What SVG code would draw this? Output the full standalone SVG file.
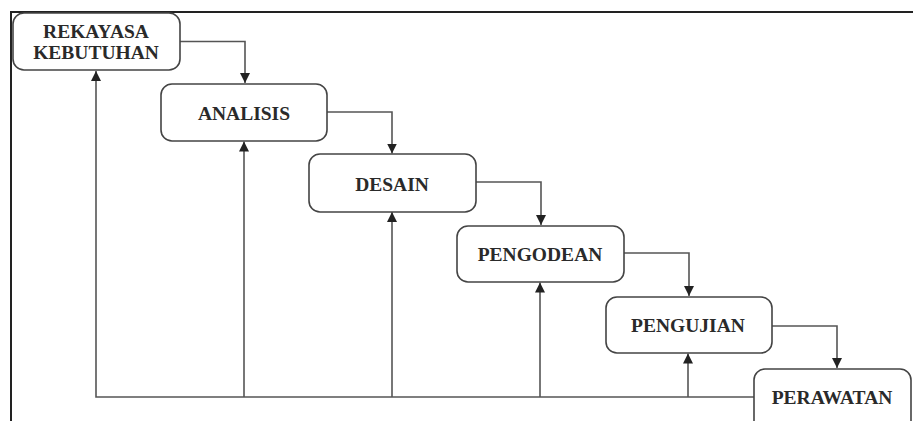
<svg xmlns="http://www.w3.org/2000/svg" width="913" height="421" viewBox="0 0 913 421">
<style>
.box{fill:#fff;stroke:#444;stroke-width:1.6}
.lbl{font-family:"Liberation Serif","Times New Roman",serif;font-weight:bold;font-size:19.5px;fill:#2a2a2a;text-anchor:middle}
.con{fill:none;stroke:#555;stroke-width:1.6}
.frame{fill:none;stroke:#222;stroke-width:2}
</style>
<defs>
<marker id="arr" viewBox="0 0 10 10" refX="10" refY="5" markerWidth="10" markerHeight="10" markerUnits="userSpaceOnUse" orient="auto">
<path d="M0,0 L10,5 L0,10 Z" fill="#222"/>
</marker>
</defs>
<rect width="913" height="421" fill="#fff"/>
<path class="frame" d="M11,421 V12 H913"/>
<g id="connectors">
<path class="con" d="M180,41.5 H245 V83" marker-end="url(#arr)"/>
<path class="con" d="M327,112 H392 V153.5" marker-end="url(#arr)"/>
<path class="con" d="M476,182 H541 V225" marker-end="url(#arr)"/>
<path class="con" d="M624,253 H689 V296" marker-end="url(#arr)"/>
<path class="con" d="M772,326 H837 V368" marker-end="url(#arr)"/>
<path class="con" d="M754,397 H96 V71" marker-end="url(#arr)"/>
<path class="con" d="M244,397 V141.5" marker-end="url(#arr)"/>
<path class="con" d="M392,397 V212" marker-end="url(#arr)"/>
<path class="con" d="M540,397 V282.5" marker-end="url(#arr)"/>
<path class="con" d="M688,397 V353.5" marker-end="url(#arr)"/>
</g>
<g id="rekayasa">
<rect class="box" x="13" y="13" width="167" height="57" rx="11"/>
<text class="lbl" x="96" y="38">REKAYASA</text>
<text class="lbl" x="96" y="59">KEBUTUHAN</text>
</g>
<g id="analisis">
<rect class="box" x="161" y="84" width="166" height="57" rx="11"/>
<text class="lbl" x="244" y="120">ANALISIS</text>
</g>
<g id="desain">
<rect class="box" x="309" y="154" width="167" height="58" rx="11"/>
<text class="lbl" x="392" y="191">DESAIN</text>
</g>
<g id="pengodean">
<rect class="box" x="457" y="226" width="167" height="56" rx="11"/>
<text class="lbl" x="540" y="261">PENGODEAN</text>
</g>
<g id="pengujian">
<rect class="box" x="606" y="297" width="166" height="56" rx="11"/>
<text class="lbl" x="688" y="332">PENGUJIAN</text>
</g>
<g id="perawatan">
<rect class="box" x="754" y="369" width="157" height="70" rx="11"/>
<text class="lbl" x="832" y="404">PERAWATAN</text>
</g>
</svg>
